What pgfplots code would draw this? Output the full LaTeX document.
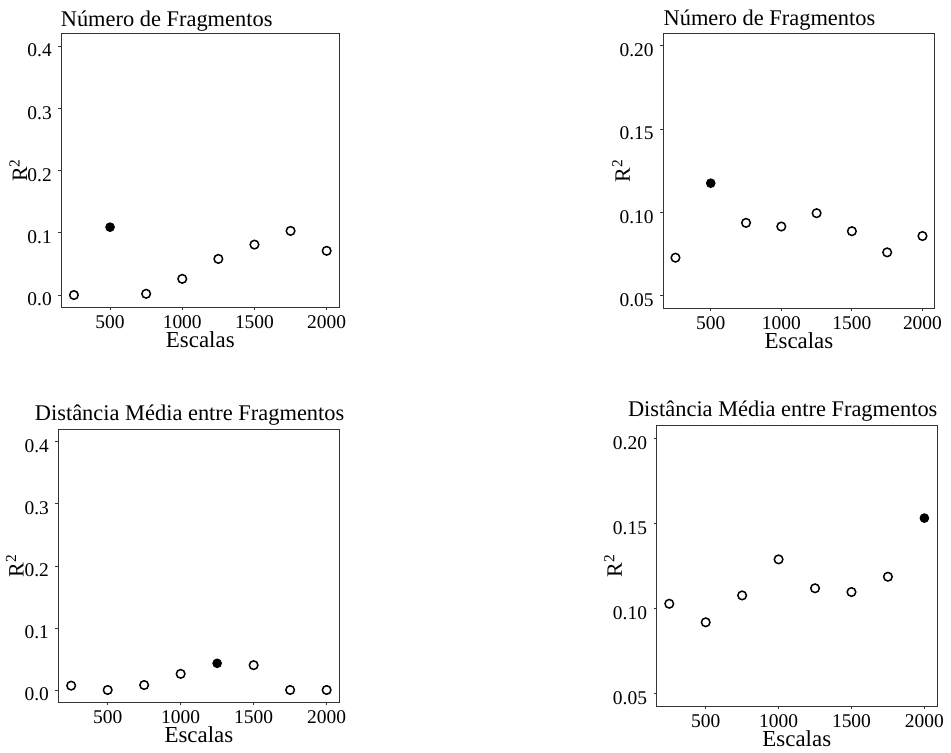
\documentclass[border=0pt]{standalone}
\usepackage{fontspec}
\setmainfont{Liberation Serif}
\usepackage{pgfplots}
\pgfplotsset{compat=1.18}
\pgfplotsset{
  panel/.style={
    scale only axis,
    anchor=south west,
    xmin=162.5, xmax=2087.5,
    xtick={500,1000,1500,2000},
    axis line style={draw=black!80, line width=0.9bp},
    tick style={draw=black!80, line width=0.8bp},
    tick align=outside,
    major tick length=3bp,
    xtick pos=bottom, ytick pos=left,
    font=\fontsize{22.5}{26}\selectfont,
    tick label style={font=\fontsize{19.5}{23}\selectfont},
    /pgf/number format/assume math mode=true,
    /pgf/number format/1000 sep={},
    xlabel={Escalas},
    ylabel={R\textsuperscript{2}},
    xlabel style={at={(axis description cs:0.5,0)}, anchor=base, yshift=-40bp, font=\fontsize{23}{26}\selectfont},
    ylabel style={at={(axis description cs:-0.155,0.5)}, anchor=center, font=\fontsize{22}{26}\selectfont},
    yticklabel style={yshift=-4.5bp, xshift=-3bp},
    xticklabel style={yshift=-2bp},
    title style={anchor=base west},
  },
  low/.style={ymin=-0.02, ymax=0.42, ytick={0,0.1,0.2,0.3,0.4},
    yticklabel style={/pgf/number format/fixed, /pgf/number format/fixed zerofill, /pgf/number format/precision=1}},
  high/.style={ymin=0.0425, ymax=0.2075, ytick={0.05,0.10,0.15,0.20},
    yticklabel style={/pgf/number format/fixed, /pgf/number format/fixed zerofill, /pgf/number format/precision=2}},
  open/.style={only marks, mark=*, mark size=4.3bp, mark options={fill=white, draw=black, line width=1.5bp}},
  full/.style={only marks, mark=*, mark size=4.3bp, mark options={fill=black, draw=black, line width=1bp}},
}
\begin{document}
\begin{tikzpicture}
\useasboundingbox (0,0) rectangle (951bp,753bp);
% Panel 1
\begin{axis}[panel, low, at={(61.3bp,445.5bp)}, width=278bp, height=274bp,
  title={Número de Fragmentos}, title style={at={(axis description cs:0,1)}, xshift=-4bp, yshift=1bp}]
\addplot[open] coordinates {(250,0.000) (750,0.002) (1000,0.026) (1250,0.058) (1500,0.081) (1750,0.103) (2000,0.071)};
\addplot[full] coordinates {(500,0.109)};
\end{axis}
% Panel 2
\begin{axis}[panel, high, at={(663.1bp,444.8bp)}, width=271.7bp, height=275bp,
  title={Número de Fragmentos}, title style={at={(axis description cs:0,1)}, xshift=-3bp, yshift=2bp}]
\addplot[open] coordinates {(250,0.0728) (750,0.0937) (1000,0.0915) (1250,0.0995) (1500,0.0887) (1750,0.0760) (2000,0.0858)};
\addplot[full] coordinates {(500,0.1175)};
\end{axis}
% Panel 3
\begin{axis}[panel, low, at={(58.4bp,50.6bp)}, width=281bp, height=273bp,
  title={Distância Média entre Fragmentos}, title style={at={(axis description cs:0,1)}, xshift=-27bp, yshift=3bp}]
\addplot[open] coordinates {(250,0.007) (500,0.000) (750,0.008) (1000,0.026) (1500,0.040) (1750,0.000) (2000,0.000)};
\addplot[full] coordinates {(1250,0.043)};
\end{axis}
% Panel 4
\begin{axis}[panel, high, at={(656.5bp,46.9bp)}, width=280.6bp, height=280.5bp,
  title={Distância Média entre Fragmentos}, title style={at={(axis description cs:0,1)}, xshift=-32bp, yshift=3bp}]
\addplot[open] coordinates {(250,0.1027) (500,0.0918) (750,0.1076) (1000,0.1288) (1250,0.1118) (1500,0.1096) (1750,0.1186)};
\addplot[full] coordinates {(2000,0.1531)};
\end{axis}
\end{tikzpicture}
\end{document}
